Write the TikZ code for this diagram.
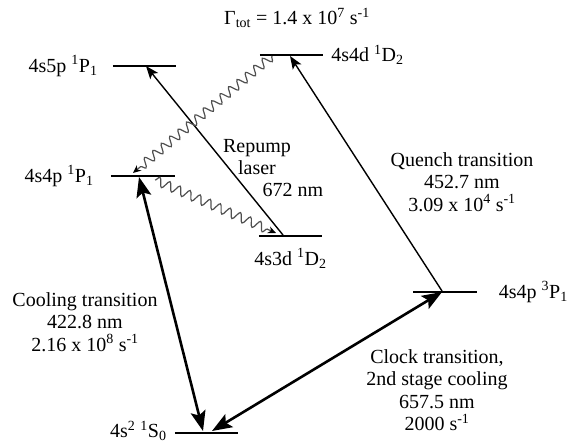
\documentclass[tikz,border=0pt]{standalone}
\usepackage{fontspec}
\setmainfont{Liberation Serif}
\usetikzlibrary{arrows.meta,positioning,decorations.pathmorphing}
\definecolor{wave-grey}{HTML}{505050}

\begin{document}
\begin{tikzpicture}[x=1pt, y=-1pt,
    every node/.style={font=\fontsize{20}{22.5}\selectfont, inner sep=0pt},
    enlevel/.style={minimum width=63pt, minimum height=0pt, inner sep=0pt},
    levelbar/.style={line width=2.4pt},
    bigarrow/.style={line width=2.6pt,
      {Stealth[length=20pt,width=15pt,inset=4pt]}-{Stealth[length=20pt,width=15pt,inset=4pt]}},
    slimarrow/.style={line width=1.4pt, -{Stealth[length=13pt,width=10pt,inset=3pt]}},
    decay/.style={wave-grey, line width=1.2pt, decorate,
      decoration={snake, amplitude=4.5pt, segment length=11pt, post length=8pt},
      -{Stealth[black,length=8pt,width=7pt]}}]
  \useasboundingbox (0,0) rectangle (569,444);
  \node[enlevel] (P51) at (144.5,66) {};
  \node[enlevel] (D42) at (291.5,55) {};
  \node[enlevel, minimum width=64pt] (P41) at (143,176) {};
  \node[enlevel] (D32) at (290.5,236) {};
  \node[enlevel] (P31) at (445,292) {};
  \node[enlevel] (S0) at (206.5,433) {};
  \foreach \lev in {P51,D42,P41,D32,P31,S0}
    \draw[levelbar] (\lev.west) -- (\lev.east);
  \node[left=15pt of P51] (P51lab) {4s5p \textsuperscript{1}P\textsubscript{1}};
  \node[right=8pt of D42] (D42lab) {4s4d \textsuperscript{1}D\textsubscript{2}};
  \node[left=17pt of P41] (P41lab) {4s4p \textsuperscript{1}P\textsubscript{1}};
  \node[below=12pt of D32] (D32lab) {4s3d \textsuperscript{1}D\textsubscript{2}};
  \node[right=22pt of P31] (P31lab) {4s4p \textsuperscript{3}P\textsubscript{1}};
  \node[left=8pt of S0, yshift=2pt] (S0lab) {4s\textsuperscript{2} \textsuperscript{1}S\textsubscript{0}};
  \node (gamma) at (297,18) {Γ\textsubscript{tot} = 1.4 x 10\textsuperscript{7} s\textsuperscript{-1}};
  \draw[slimarrow] ([xshift=-7.5pt,yshift=1pt]D32.center) -- ([xshift=1.5pt]P51.center);
  \draw[slimarrow] ([xshift=-3pt,yshift=1pt]P31.center) -- ([xshift=-1.5pt,yshift=-1pt]D42.center);
  \draw[bigarrow] ([xshift=-4pt,yshift=-1pt]P41.center) -- ([xshift=-3.5pt,yshift=2pt]S0.center);
  \draw[bigarrow] ([xshift=5.5pt,yshift=2pt]S0.center) -- ([xshift=-3pt]P31.center);
  \draw[decay] ([xshift=-19.5pt,yshift=-1pt]D42.center) -- ([xshift=-10pt,yshift=3pt]P41.center);
  \draw[decay] ([xshift=12pt,yshift=-4pt]P41.center) -- ([xshift=-14.5pt,yshift=3pt]D32.center);
  \node[align=center] (repump) at (257,157) {Repump\\laser};
  \node (repumpnm) at (293,190) {672 nm};
  \node[align=center] (quench) at (462,182) {Quench transition\\452.7 nm\\3.09 x 10\textsuperscript{4} s\textsuperscript{-1}};
  \node[align=center] (cooling) at (85,322) {Cooling transition\\422.8 nm\\2.16 x 10\textsuperscript{8} s\textsuperscript{-1}};
  \node[align=center] (clock) at (437,390) {Clock transition,\\2nd stage cooling\\657.5 nm\\2000 s\textsuperscript{-1}};
\end{tikzpicture}
\end{document}
